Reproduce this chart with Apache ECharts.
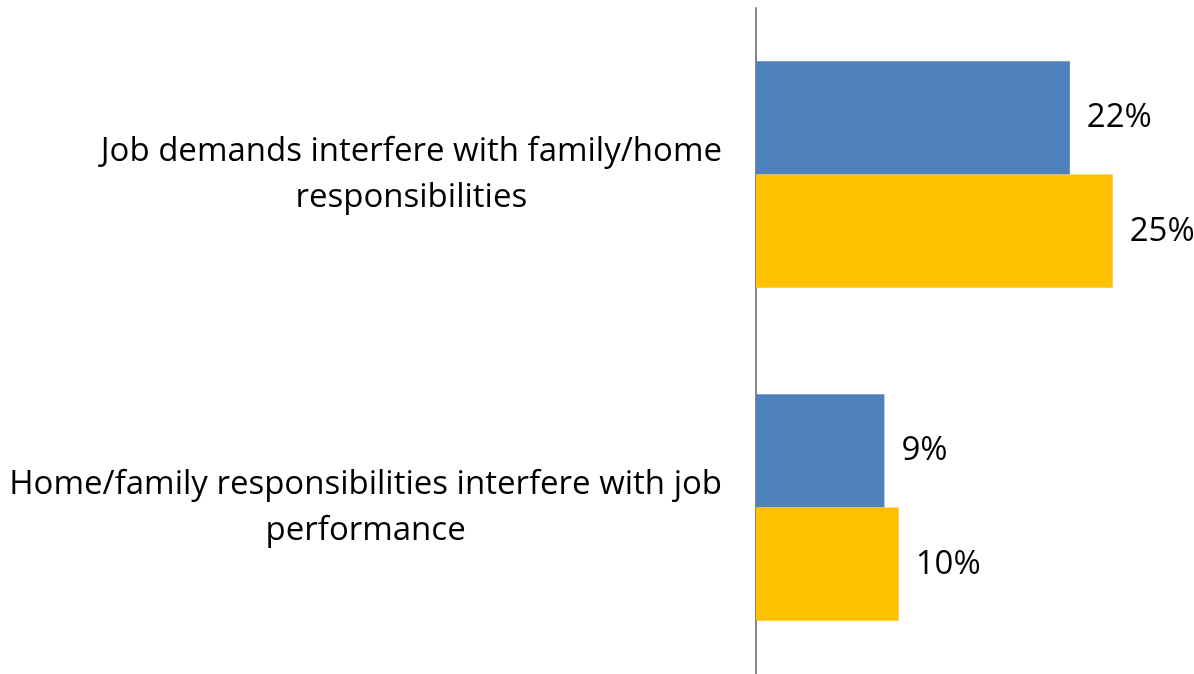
<!DOCTYPE html>
<html>
<head>
<meta charset="utf-8">
<style>
  html, body { margin: 0; padding: 0; background: #ffffff; }
  #chart { width: 1194px; height: 674px; }
</style>
<script src="https://cdn.jsdelivr.net/npm/echarts@6/dist/echarts.min.js"></script>
</head>
<body>
<div id="chart"></div>
<script>
// Categories, top to bottom
const categories = [
  'Job demands interfere with family/home\nresponsibilities',
  'Home/family responsibilities interfere with job\nperformance'
];
// Percent values per series
const seriesA = [22, 9];
const seriesB = [25, 10];

const FONT = '"Open Sans", sans-serif';

const chart = echarts.init(document.getElementById('chart'));
chart.setOption({
  backgroundColor: '#ffffff',
  animation: false,
  grid: { left: 756, right: 10, top: 8, bottom: 0, containLabel: false },
  xAxis: {
    type: 'value',
    min: 0,
    max: 30,
    show: false,
    splitLine: { show: false }
  },
  yAxis: {
    type: 'category',
    inverse: true,
    data: categories,
    axisLine: { show: true, lineStyle: { color: '#868686', width: 2 } },
    axisTick: { show: false },
    splitLine: { show: false },
    axisLabel: {
      margin: 34,
      align: 'right',
      formatter: function (v) { return '{c|' + v + '}'; },
      rich: {
        c: {
          align: 'center',
          fontFamily: FONT,
          fontSize: 33,
          lineHeight: 46,
          color: '#000000'
        }
      }
    }
  },
  series: [
    {
      type: 'bar',
      data: seriesA,
      barGap: '0%',
      barCategoryGap: '32%',
      itemStyle: { color: '#4F81BD' },
      label: {
        show: true,
        position: 'right',
        distance: 17,
        formatter: '{c}%',
        fontFamily: FONT,
        fontSize: 33,
        color: '#000000'
      }
    },
    {
      type: 'bar',
      data: seriesB,
      barGap: '0%',
      barCategoryGap: '32%',
      itemStyle: { color: '#FFC000' },
      label: {
        show: true,
        position: 'right',
        distance: 17,
        formatter: '{c}%',
        fontFamily: FONT,
        fontSize: 33,
        color: '#000000'
      }
    }
  ]
});
</script>
</body>
</html>
